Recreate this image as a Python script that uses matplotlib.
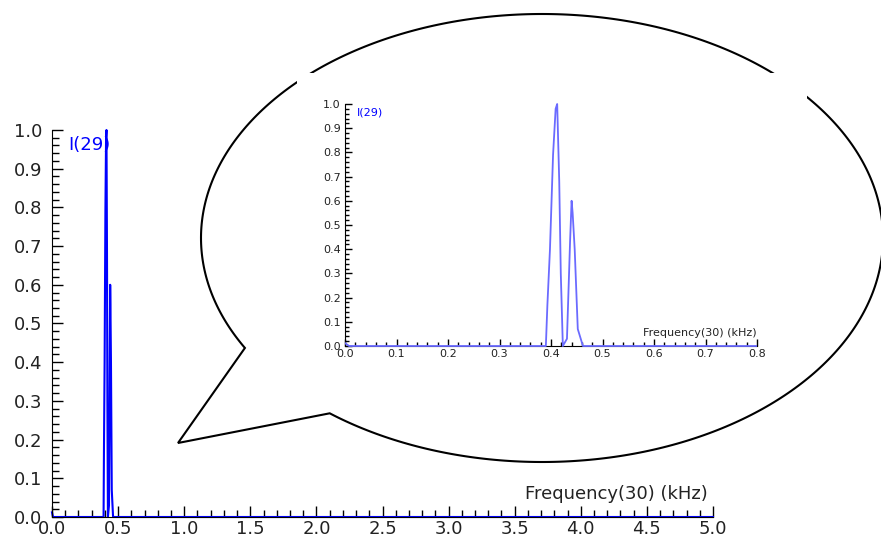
import numpy as np
import matplotlib
matplotlib.use("Agg")
import matplotlib.pyplot as plt
from matplotlib.patches import Polygon, Rectangle
from matplotlib.ticker import MultipleLocator, FormatStrFormatter
from matplotlib.transforms import Bbox, TransformedBbox

# spectrum data
freq_khz = [0.0, 0.008, 0.390, 0.393, 0.398, 0.404, 0.409, 0.412, 0.416, 0.419,
            0.423, 0.431, 0.437, 0.440, 0.442, 0.446, 0.452, 0.462, 5.0]
intensity = [0.012, 0.0, 0.0, 0.17, 0.40, 0.79, 0.98, 1.0, 0.68, 0.30,
             0.0, 0.03, 0.43, 0.60, 0.55, 0.40, 0.07, 0.0, 0.0]

series_label = "I(29)"
x_label = "Frequency(30) (kHz)"

W, H = 881, 540
BLUE = "#0000ff"
LIGHT_BLUE = "#6b6bff"


def px_rect(x0, y0, x1, y1):
    # pixel box (y down) -> figure fraction
    return [x0 / W, 1 - y1 / H, (x1 - x0) / W, (y1 - y0) / H]


def style_axes(ax, fs, xmaj, xmin, maj_len, min_len, ypad):
    ax.spines["top"].set_visible(False)
    ax.spines["right"].set_visible(False)
    ax.spines["left"].set_color("black")
    ax.spines["bottom"].set_color("black")
    ax.yaxis.set_major_locator(MultipleLocator(0.1))
    ax.yaxis.set_minor_locator(MultipleLocator(0.02))
    ax.xaxis.set_major_locator(MultipleLocator(xmaj))
    ax.xaxis.set_minor_locator(MultipleLocator(xmin))
    ax.yaxis.set_major_formatter(FormatStrFormatter("%.1f"))
    ax.xaxis.set_major_formatter(FormatStrFormatter("%.1f"))
    ax.tick_params(which="both", direction="in", colors="black", labelsize=fs)
    ax.tick_params(which="major", length=maj_len, width=1)
    ax.tick_params(which="minor", length=min_len, width=1)
    ax.tick_params(axis="x", labelcolor="#222222", pad=2)
    ax.tick_params(axis="y", labelcolor="#222222", pad=ypad)


fig = plt.figure(figsize=(W / 100, H / 100), dpi=100)

#################
### main plot ###
#################
ax = fig.add_axes(px_rect(52, 130, 713, 517))
ax.plot(freq_khz, intensity, color=BLUE, lw=1.5, clip_on=False)
ax.set_xlim(0, 5.0)
ax.set_ylim(0, 1.0)
style_axes(ax, 13, 0.5, 0.1, 8, 5, 7)
ax.text(0.025, 0.985, series_label, transform=ax.transAxes, color=BLUE,
        fontsize=13, ha="left", va="top")
ax.text(0.992, 0.035, x_label, transform=ax.transAxes, color="#222222",
        fontsize=13, ha="right", va="bottom")
ax.set_zorder(1)

#####################
### speech bubble ###
#####################
ov = fig.add_axes([0, 0, 1, 1])
ov.set_xlim(0, W)
ov.set_ylim(H, 0)
ov.axis("off")
ov.set_zorder(2)
ov.patch.set_alpha(0)

cx, cy, ea, eb = 542, 238, 341, 224
t = np.radians(np.linspace(150.6, 488.5, 400))
pts = np.column_stack([cx + ea * np.cos(t), cy + eb * np.sin(t)])
pts = np.vstack([pts, [[178, 443]]])
ov.add_patch(Polygon(pts, closed=True, facecolor="white", edgecolor="black",
                     lw=1.5, clip_on=False))
# white backdrop of the pasted zoom image
ov.add_patch(Rectangle((297, 73), 510, 297, facecolor="white", edgecolor="none",
                       zorder=5))

#############
### inset ###
#############
ins = fig.add_axes(px_rect(345, 104, 757, 346))
ins.set_zorder(3)
line, = ins.plot(freq_khz, intensity, color=LIGHT_BLUE, lw=1.3, zorder=3)
line.set_clip_box(TransformedBbox(Bbox([[0, -0.02], [1, 1.02]]), ins.transAxes))
ins.set_xlim(0, 0.8)
ins.set_ylim(0, 1.0)
style_axes(ins, 8, 0.1, 0.02, 5, 3, 3)
ins.text(0.03, 0.985, series_label, transform=ins.transAxes, color=BLUE,
         fontsize=8, ha="left", va="top")
ins.text(1.0, 0.035, x_label, transform=ins.transAxes, color="#222222",
         fontsize=8, ha="right", va="bottom")

fig.savefig("out.png", dpi=100)
